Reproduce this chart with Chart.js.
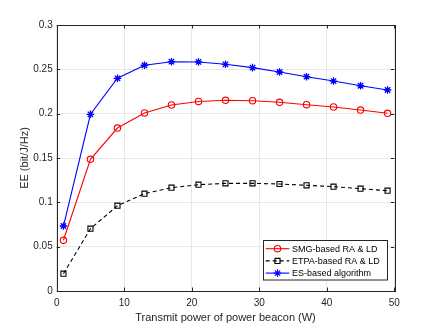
<!DOCTYPE html>
<html><head><meta charset="utf-8">
<script src="https://cdn.jsdelivr.net/npm/chart.js@4/dist/chart.umd.min.js"></script>
<style>html,body{margin:0;padding:0;background:#fff}#wrap{width:436px;height:327px;position:relative}</style>
</head><body><div id="wrap"><canvas id="c" width="436" height="327"></canvas></div>
<script>
const xValues = [1,5,9,13,17,21,25,29,33,37,41,45,49];
const smgValues = [0.0572,0.1485,0.1838,0.2008,0.2098,0.2138,0.2151,0.2146,0.2128,0.2101,0.2075,0.2041,0.2004];
const etpaValues = [0.0195,0.0703,0.0962,0.1098,0.1165,0.1199,0.1214,0.1214,0.1207,0.1192,0.1177,0.1154,0.1131];
const esValues = [0.0733,0.1993,0.2399,0.2546,0.2586,0.2583,0.2557,0.2519,0.2470,0.2417,0.2368,0.2315,0.2267];
const seriesNames = ['SMG-based RA & LD','ETPA-based RA & LD','ES-based algorithm'];
const xTicks = [0,10,20,30,40,50];
const yTicks = [0,0.05,0.1,0.15,0.2,0.25,0.3];
const xTitle = 'Transmit power of power beacon (W)';
const yTitle = 'EE (bit/J/Hz)';

const FONT = 'Liberation Sans, Arial, Helvetica, sans-serif';
const AX = '#262626';

function pts(v){ return xValues.map((x,i)=>({x:x,y:v[i]})); }

const datasets = [
  {label:seriesNames[0], data:pts(smgValues), borderColor:'#ff0000', backgroundColor:'rgba(0,0,0,0)', pointStyle:'circle', pointRadius:3.2, pointBorderWidth:1.1, borderWidth:1.1, pointBorderColor:'#ff0000'},
  {label:seriesNames[1], data:pts(etpaValues), borderColor:'#000000', backgroundColor:'rgba(0,0,0,0)', pointStyle:'rect', pointRadius:3.6, pointBorderWidth:1.1, borderWidth:1.1, borderDash:[4,3], pointBorderColor:'#000000'},
  {label:seriesNames[2], data:pts(esValues), borderColor:'#0000ff', backgroundColor:'rgba(0,0,0,0)', pointStyle:'star', pointRadius:3.8, pointBorderWidth:1.3, borderWidth:1.1, pointBorderColor:'#0000ff'}
];

const framePlugin = {
  id:'frame',
  afterDraw(chart){
    const ctx = chart.ctx, a = chart.chartArea;
    const xs = chart.scales.x, ys = chart.scales.y;
    ctx.save();
    ctx.strokeStyle = AX; ctx.lineWidth = 1;
    ctx.strokeRect(Math.round(a.left)+0.5, Math.round(a.top)+0.5, Math.round(a.right-a.left), Math.round(a.bottom-a.top));
    const tl = 3.5;
    ctx.beginPath();
    xTicks.forEach(t=>{ const px = Math.round(xs.getPixelForValue(t))+0.5;
      ctx.moveTo(px,a.bottom); ctx.lineTo(px,a.bottom-tl);
      ctx.moveTo(px,a.top); ctx.lineTo(px,a.top+tl); });
    yTicks.forEach(t=>{ const py = Math.round(ys.getPixelForValue(t))+0.5;
      ctx.moveTo(a.left,py); ctx.lineTo(a.left+tl,py);
      ctx.moveTo(a.right,py); ctx.lineTo(a.right-tl,py); });
    ctx.stroke();
    // legend
    const bx=263.5, by=240.5, bw=124, bh=39.5;
    ctx.fillStyle='#fff'; ctx.fillRect(bx,by,bw,bh);
    ctx.strokeStyle=AX; ctx.strokeRect(bx,by,bw,bh);
    const rows=[248.7,260.9,273.1];
    chart.data.datasets.forEach((ds,i)=>{
      const y=rows[i];
      ctx.save();
      ctx.strokeStyle=ds.borderColor; ctx.lineWidth=ds.borderWidth;
      ctx.setLineDash(ds.borderDash||[]);
      ctx.beginPath(); ctx.moveTo(265.7,y); ctx.lineTo(289.3,y); ctx.stroke();
      ctx.setLineDash([]);
      ctx.fillStyle='rgba(0,0,0,0)';
      Chart.helpers.drawPoint(ctx,{pointStyle:ds.pointStyle, radius:ds.pointRadius, borderWidth:ds.pointBorderWidth}, 277.5, y);
      ctx.restore();
      ctx.fillStyle='#000'; ctx.font='9px '+FONT; ctx.textBaseline='middle'; ctx.textAlign='left';
      ctx.fillText(ds.label, 292, y+0.5);
    });
    ctx.restore();
  }
};

new Chart(document.getElementById('c'), {
  type:'line',
  data:{datasets:datasets},
  options:{
    responsive:false, animation:false,
    layout:{padding:{left:0, top:25, right:41.7, bottom:0}},
    plugins:{legend:{display:false}, tooltip:{enabled:false}},
    scales:{
      x:{type:'linear', min:0, max:50,
        afterBuildTicks(s){ s.ticks = xTicks.map(v=>({value:v})); },
        afterFit(s){ s.height = 36; },
        grid:{color:'#e8e8e8', drawTicks:false},
        border:{display:false},
        ticks:{padding:6, color:AX, font:{family:FONT, size:10}, callback:v=>String(v)},
        title:{display:true, text:xTitle, color:AX, font:{family:FONT, size:11}, padding:{top:0,bottom:2}}
      },
      y:{type:'linear', min:0, max:0.3,
        afterBuildTicks(s){ s.ticks = yTicks.map(v=>({value:v})); },
        afterFit(s){ s.width = 56.7; },
        grid:{color:'#e8e8e8', drawTicks:false},
        border:{display:false},
        ticks:{padding:4, color:AX, font:{family:FONT, size:10}, callback:v=>String(+v.toFixed(2))},
        title:{display:true, text:yTitle, color:AX, font:{family:FONT, size:11}, padding:{top:18,bottom:0}}
      }
    }
  },
  plugins:[framePlugin]
});
</script></body></html>
